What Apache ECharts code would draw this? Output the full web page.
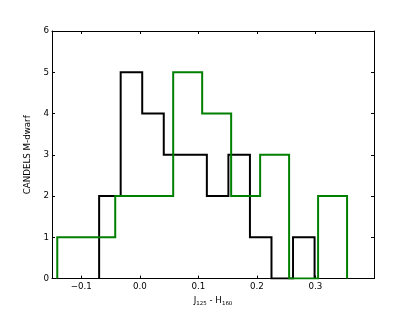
<!DOCTYPE html>
<html>
<head>
<meta charset="utf-8">
<script src="https://cdn.jsdelivr.net/npm/echarts@6/dist/echarts.min.js"></script>
<style>html,body{margin:0;padding:0;background:#fff;}#c{width:415px;height:312px;}</style>
</head>
<body>
<div id="c"></div>
<script>
// Data
var blackEdges = [-0.0695, -0.0327, 0.0041, 0.0409, 0.0777, 0.1145, 0.1513, 0.1881, 0.2249, 0.2617, 0.2985];
var blackCounts = [2, 5, 4, 3, 3, 2, 3, 1, 0, 1];
var greenEdges = [-0.141, -0.0915, -0.042, 0.0075, 0.057, 0.1065, 0.156, 0.2055, 0.255, 0.3045, 0.354];
var greenCounts = [1, 1, 2, 2, 5, 4, 2, 3, 0, 2];
var xTicks = [-0.1, 0.0, 0.1, 0.2, 0.3];
var yTicks = [0, 1, 2, 3, 4, 5, 6];

function stepPoints(edges, counts) {
  var pts = [[edges[0], 0]];
  for (var i = 0; i < counts.length; i++) {
    pts.push([edges[i], counts[i]]);
    pts.push([edges[i + 1], counts[i]]);
  }
  pts.push([edges[edges.length - 1], 0]);
  return pts;
}

var FONT = 'DejaVu Sans';
var FS = 8.7;
var chart = echarts.init(document.getElementById('c'), null, {renderer: 'canvas'});
function axisLine() { return {show: true, onZero: false, lineStyle: {color: '#000', width: 1}}; }
var option = {
  animation: false,
  backgroundColor: '#fff',
  grid: {left: 52, right: 41, top: 31, bottom: 31.5, containLabel: false},
  xAxis: [{
    type: 'value', min: -0.15, max: 0.4, position: 'bottom',
    axisLine: axisLine(),
    splitLine: {show: false},
    axisTick: {show: true, inside: true, length: 3, customValues: xTicks, lineStyle: {color: '#000'}},
    axisLabel: {customValues: xTicks, margin: 4, color: '#000', fontFamily: FONT, fontSize: FS,
      formatter: function (v) { return (v < 0 ? '\u2212' : '') + Math.abs(v).toFixed(1); }},
    name: '{m|J}{s|125}{m| - H}{s|160}', nameLocation: 'middle', nameGap: 12,
    nameTextStyle: {rich: {
      m: {fontFamily: FONT, fontSize: FS, color: '#000'},
      s: {fontFamily: FONT, fontSize: 5.5, color: '#000', verticalAlign: 'bottom', padding: [6, 0, 0, 0]}
    }}
  }, {
    type: 'value', min: -0.15, max: 0.4, position: 'top',
    axisLine: axisLine(), splitLine: {show: false},
    axisTick: {show: true, inside: true, length: 3, customValues: xTicks, lineStyle: {color: '#000'}},
    axisLabel: {show: false}
  }],
  yAxis: [{
    type: 'value', min: 0, max: 6, interval: 1, position: 'left',
    axisLine: axisLine(), splitLine: {show: false},
    axisTick: {show: true, inside: true, length: 3, customValues: yTicks, lineStyle: {color: '#000'}},
    axisLabel: {margin: 3, customValues: yTicks, color: '#000', fontFamily: FONT, fontSize: FS},
    name: 'CANDELS M-dwarf', nameLocation: 'middle', nameGap: 9,
    nameTextStyle: {fontFamily: FONT, fontSize: FS, color: '#000'}
  }, {
    type: 'value', min: 0, max: 6, interval: 1, position: 'right',
    axisLine: axisLine(), splitLine: {show: false},
    axisTick: {show: true, inside: true, length: 3, lineStyle: {color: '#000'}},
    axisLabel: {show: false}
  }],
  series: [{
    type: 'line', xAxisIndex: 0, yAxisIndex: 0, showSymbol: false, symbol: 'none',
    data: stepPoints(blackEdges, blackCounts),
    lineStyle: {color: '#000', width: 2, join: 'miter'}, clip: true, z: 2
  }, {
    type: 'line', xAxisIndex: 0, yAxisIndex: 0, showSymbol: false, symbol: 'none',
    data: stepPoints(greenEdges, greenCounts),
    lineStyle: {color: '#008000', width: 2, join: 'miter'}, clip: true, z: 3
  }]
};
chart.setOption(option);
</script>
</body>
</html>
